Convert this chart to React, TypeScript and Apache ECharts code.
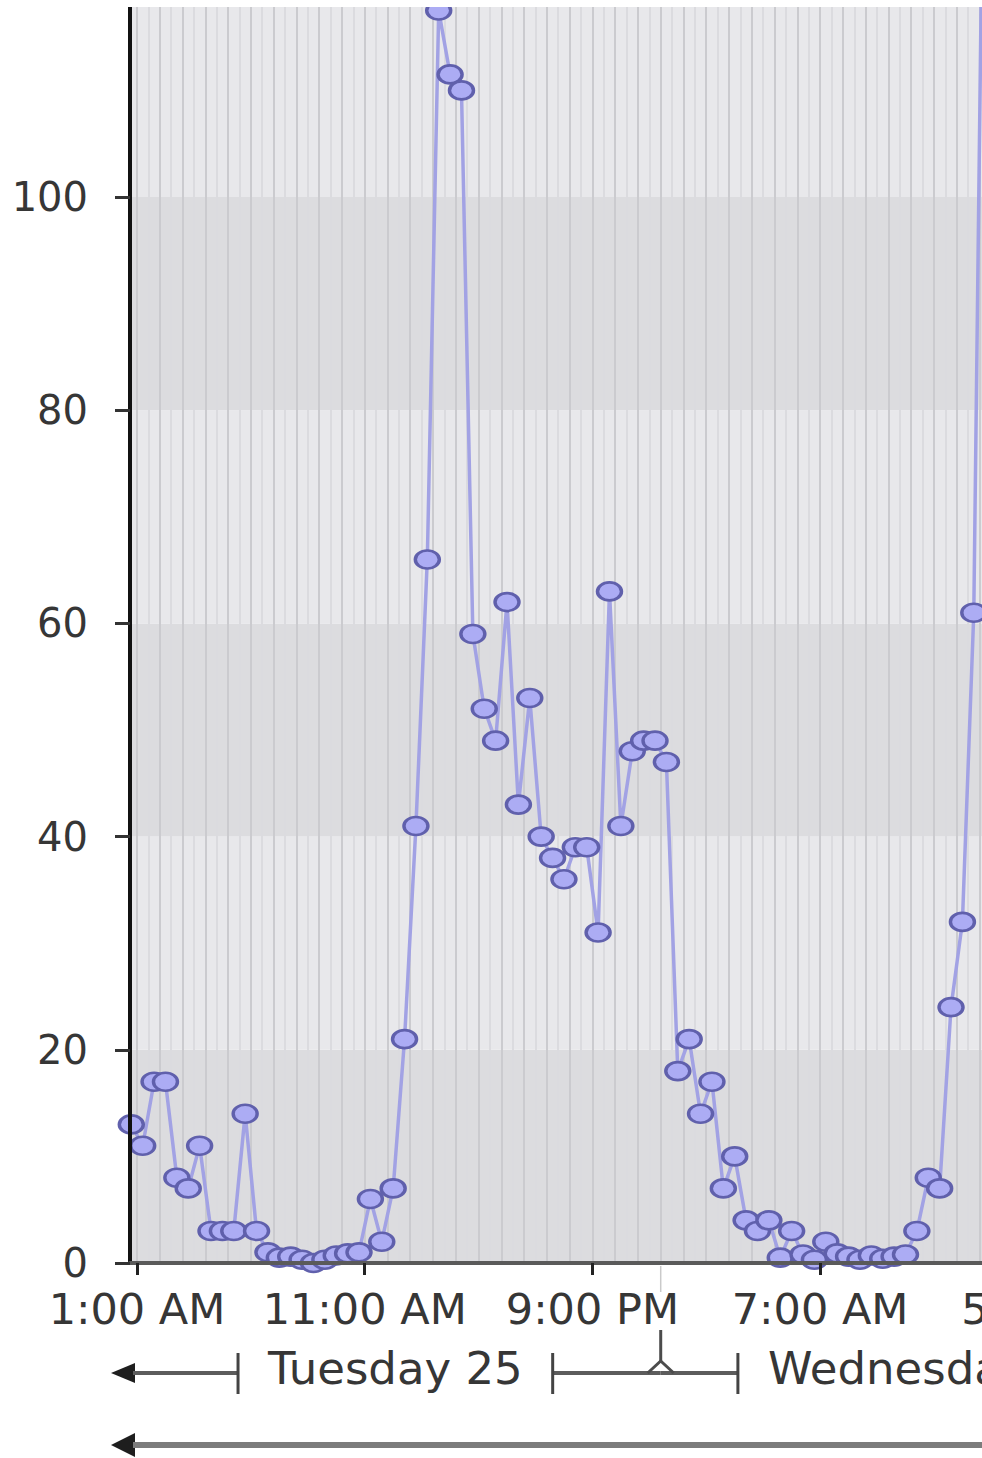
import React, { useEffect, useRef } from "react";
import * as echarts from "echarts";

// Samples every 30 minutes; hours are counted from Tuesday 25, 00:00.
const FIRST_SAMPLE_HOUR = 0.75; // 12:45 AM
const SAMPLE_STEP_HOURS = 0.5;
const SAMPLE_VALUES = [
  13, 11, 17, 17, 8, 7, 11, 3, 3, 3, 14, 3, 1, 0.5, 0.6, 0.3, 0, 0.3, 0.7, 0.9,
  1, 6, 2, 7, 21, 41, 66, 117.5, 111.5, 110, 59, 52, 49, 62, 43, 53, 40, 38, 36, 39,
  39, 31, 63, 41, 48, 49, 49, 47, 18, 21, 14, 17, 7, 10, 4, 3, 4, 0.5, 3, 0.8,
  0.3, 2, 0.9, 0.6, 0.3, 0.7, 0.4, 0.6, 0.8, 3, 8, 7, 24, 32, 61, 150,
];

const X_TICK_HOURS = [1, 11, 21, 31, 41];
const X_TICK_LABELS = ["1:00 AM", "11:00 AM", "9:00 PM", "7:00 AM", "5:00 PM"];
const DAY_START_HOURS = [0, 24];
const DAY_LABELS = ["Tuesday 25", "Wednesday 26"];
const Y_MIN = 0;
const Y_MAX = 120;
const Y_STEP = 20;

// layout (page pixels)
const OY = 30; // chart div is shifted up by this much
const PX_PER_HOUR = 22.77;
const GRID_LEFT = 130;
const GRID_WIDTH = 1130;
const AXIS_Y = 1263; // page y of value 0
const PX_PER_UNIT = 10.66;
const GRID_H = Y_MAX * PX_PER_UNIT;
const GRID_TOP = AXIS_Y + OY - GRID_H;
const X_MIN = 1 - (137 - GRID_LEFT) / PX_PER_HOUR;
const X_MAX = X_MIN + GRID_WIDTH / PX_PER_HOUR;
const FONT = "DejaVu Sans";
const TEXT_COLOR = "#363636";

export default function App() {
  const ref = useRef<HTMLDivElement>(null);

  useEffect(() => {
    document.body.style.margin = "0";
    const el = ref.current!;
    const chart = echarts.init(el, null, { renderer: "svg" });

    const stripeHours: number[] = [];
    for (let h = 1; h <= X_MAX; h += 0.5) stripeHours.push(h);

    const data = SAMPLE_VALUES.map((v, i) => [FIRST_SAMPLE_HOUR + i * SAMPLE_STEP_HOURS, v]);

    const option: any = {
      animation: false,
      backgroundColor: "#ffffff",
      grid: { left: GRID_LEFT, top: GRID_TOP, width: GRID_WIDTH, height: GRID_H },
      xAxis: [
        {
          type: "value",
          min: X_MIN,
          max: X_MAX,
          position: "bottom",
          z: 3,
          axisLine: { show: true, onZero: false, lineStyle: { color: "#5a5a5a", width: 4 } },
          axisTick: { show: true, customValues: X_TICK_HOURS, length: 12, lineStyle: { color: "#222", width: 3 } },
          axisLabel: {
            show: true,
            customValues: X_TICK_HOURS,
            formatter: (v: number) => {
              const i = X_TICK_HOURS.indexOf(v);
              return i >= 0 ? X_TICK_LABELS[i] : "";
            },
            margin: 24,
            fontSize: 43,
            fontFamily: FONT,
            color: TEXT_COLOR,
          },
          splitLine: { show: false },
        },
        {
          type: "value",
          min: X_MIN,
          max: X_MAX,
          position: "top",
          z: 1,
          axisLine: { show: false },
          axisTick: { show: false, customValues: stripeHours },
          axisLabel: { show: false },
          splitLine: { show: true, lineStyle: { color: ["#cbcbcf", "#dbdbdf"], width: 2 } },
        },
      ],
      yAxis: [
        {
          type: "value",
          min: Y_MIN,
          max: Y_MAX,
          interval: Y_STEP,
          z: 0,
          axisLine: { show: false },
          axisTick: { show: false },
          axisLabel: { show: false },
          splitLine: { show: false },
          splitArea: { show: true, areaStyle: { color: ["#dcdcdf", "#e8e8eb"] } },
        },
        {
          type: "value",
          min: Y_MIN,
          max: Y_MAX,
          interval: Y_STEP,
          position: "left",
          z: 3,
          axisLine: { show: true, lineStyle: { color: "#111", width: 4 } },
          axisTick: { show: true, length: 15, lineStyle: { color: "#333", width: 3 } },
          axisLabel: { showMaxLabel: false, margin: 42, fontSize: 40, fontFamily: FONT, color: TEXT_COLOR },
          splitLine: { show: false },
          splitArea: { show: false },
        },
      ],
      series: [
        {
          type: "line",
          xAxisIndex: 0,
          yAxisIndex: 0,
          data,
          clip: true,
          z: 2,
          symbol: "path://M0,10A10,10,0,1,1,20,10A10,10,0,1,1,0,10Z",
          symbolSize: [24, 18],
          showAllSymbol: true,
          lineStyle: { color: "#a2a2e4", width: 3.5 },
          itemStyle: { color: "#acacf4", borderColor: "#6060ac", borderWidth: 3 },
        },
      ],
    };
    chart.setOption(option);

    const px = (h: number) => chart.convertToPixel({ xAxisIndex: 0 }, h) as unknown as number;
    const Y = (pageY: number) => pageY + OY;
    const ctx = document.createElement("canvas").getContext("2d")!;
    ctx.font = `45px "${FONT}"`;

    const lineStroke = "#5c5c5c";
    const els: any[] = [];
    const addLine = (x1: number, y1: number, x2: number, y2: number, stroke: string, w: number) =>
      els.push({ type: "line", shape: { x1, y1: Y(y1), x2, y2: Y(y2) }, style: { stroke, lineWidth: w }, z: 10 });

    const rowY = 1373;
    const arrowBase = GRID_LEFT + 5;
    // left arrow heads for row 2 and row 3
    els.push({
      type: "polygon",
      shape: { points: [[111, Y(rowY)], [arrowBase, Y(rowY - 10)], [arrowBase, Y(rowY + 10)]] },
      style: { fill: "#1e1e1e" },
      z: 10,
    });
    const row3Y = 1445;
    els.push({
      type: "polygon",
      shape: { points: [[111, Y(row3Y)], [arrowBase, Y(row3Y - 12)], [arrowBase, Y(row3Y + 12)]] },
      style: { fill: "#1e1e1e" },
      z: 10,
    });
    addLine(arrowBase - 2, row3Y, 1400, row3Y, "#7c7c7c", 6);

    DAY_START_HOURS.forEach((startH, i) => {
      const a = Math.max(startH, X_MIN);
      const b = Math.min(startH + 24, X_MAX);
      const x0 = px(a);
      const x1 = px(b);
      const c = (x0 + x1) / 2;
      const w = ctx.measureText(DAY_LABELS[i]).width;
      const gap = 30;
      const lb = c - w / 2 - gap;
      const rb = c + w / 2 + gap;
      const segStart = startH < X_MIN ? arrowBase - 2 : x0;
      addLine(segStart, rowY, lb, rowY, lineStroke, 4);
      addLine(rb, rowY, x1, rowY, lineStroke, 4);
      addLine(lb, rowY - 20, lb, rowY + 21, "#444", 3);
      addLine(rb, rowY - 20, rb, rowY + 21, "#444", 3);
      els.push({
        type: "text",
        x: c,
        y: Y(rowY - 5),
        z: 10,
        style: {
          text: DAY_LABELS[i],
          fontSize: 45,
          fontFamily: FONT,
          fill: TEXT_COLOR,
          align: "center",
          verticalAlign: "middle",
          textAlign: "center",
          textVerticalAlign: "middle",
        },
      });
      if (startH > X_MIN) {
        // day boundary marker
        addLine(x0, AXIS_Y + 3, x0, 1292, "#cacaca", 1.5);
        addLine(x0, 1330, x0, rowY - 12, "#4c4c4c", 3);
        els.push({
          type: "polyline",
          shape: { points: [[x0 - 13, Y(rowY)], [x0, Y(rowY - 12)], [x0 + 13, Y(rowY)]] },
          style: { stroke: "#4c4c4c", lineWidth: 3, fill: null },
          z: 10,
        });
      }
    });

    // white strip at the very top of the picture
    els.push({ type: "rect", shape: { x: 0, y: 0, width: 1400, height: Y(7) }, style: { fill: "#ffffff" }, z: 100 });

    chart.setOption({ graphic: els });

    return () => chart.dispose();
  }, []);

  return (
    <div style={{ position: "relative", width: 982, height: 1458, overflow: "hidden", background: "#ffffff" }}>
      <div ref={ref} style={{ position: "absolute", left: 0, top: -OY, width: 1400, height: 1458 + OY }} />
    </div>
  );
}
